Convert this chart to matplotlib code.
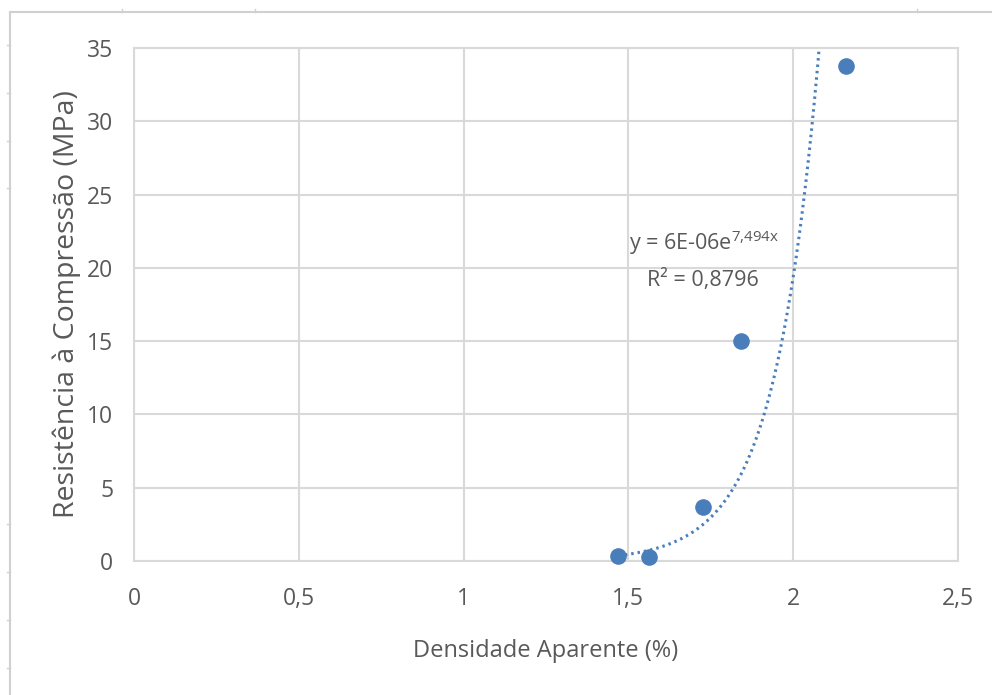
import numpy as np
import matplotlib.pyplot as plt
from matplotlib.lines import Line2D

# data
densidade = [1.468, 1.562, 1.726, 1.842, 2.160]
resistencia = [0.35, 0.3, 3.7, 15.0, 33.8]

# trendline from the equation shown on the chart
coef_a = 6e-06
coef_b = 7.494
x_trend_start = 1.47
x_trend_end = 2.09

x_ticks = [0, 0.5, 1, 1.5, 2, 2.5]
x_tick_labels = ['0', '0,5', '1', '1,5', '2', '2,5']
y_ticks = [0, 5, 10, 15, 20, 25, 30, 35]

blue = '#4a7ebb'
grey_txt = '#595959'
grid_c = '#d9d9d9'

plt.rcParams['font.family'] = ['Open Sans', 'DejaVu Sans']
plt.rcParams['mathtext.default'] = 'regular'

fig = plt.figure(figsize=(9.92, 6.95), dpi=100)
ax = fig.add_axes([134/992, 1-561/695, 824/992, 513/695])

xt = np.linspace(x_trend_start, x_trend_end, 200)
yt = coef_a*np.exp(coef_b*xt)
ax.plot(xt, yt, color=blue, linewidth=2.2, linestyle=(0, (0.8, 1.3)), zorder=3)
ax.scatter(densidade, resistencia, s=120, color=blue, zorder=4, clip_on=False)

ax.set_xlim(0, 2.5)
ax.set_ylim(0, 35)
ax.set_xticks(x_ticks)
ax.set_xticklabels(x_tick_labels)
ax.set_yticks(y_ticks)
ax.grid(True, color=grid_c, linewidth=1.5)
ax.set_axisbelow(True)
for s in ax.spines.values():
    s.set_color(grid_c)
    s.set_linewidth(1.5)
ax.tick_params(length=0, labelsize=16.5, colors=grey_txt)
ax.tick_params(axis='x', pad=19)
ax.tick_params(axis='y', pad=15)

ax.set_xlabel('Densidade Aparente (%)', fontsize=17, color=grey_txt, labelpad=20)
ax.set_ylabel('Resistência à Compressão (MPa)', fontsize=20.5, color=grey_txt, labelpad=4)

ax.text(1.729, 21.7, 'y = 6E-06e$^{7{,}494x}$', fontsize=15.5, color=grey_txt,
        ha='center', va='center')
ax.text(1.726, 19.17, 'R² = 0,8796', fontsize=15.5, color=grey_txt,
        ha='center', va='center')

# sheet frame around the screenshot
fc = '#d0d0d0'
fig.add_artist(Line2D([10/992, 1], [1-12/695, 1-12/695], color=fc, linewidth=1.5))
fig.add_artist(Line2D([10/992, 10/992], [0, 1-12/695], color=fc, linewidth=1.5))
for tx in [122, 255, 917]:
    fig.add_artist(Line2D([tx/992, tx/992], [1-12/695, 1-9/695], color=fc, linewidth=1))
for ty in [45, 93, 141, 188, 524, 572, 620, 668]:
    fig.add_artist(Line2D([7/992, 10/992], [1-ty/695, 1-ty/695], color=fc, linewidth=1))

fig.savefig('out.png', dpi=100)
